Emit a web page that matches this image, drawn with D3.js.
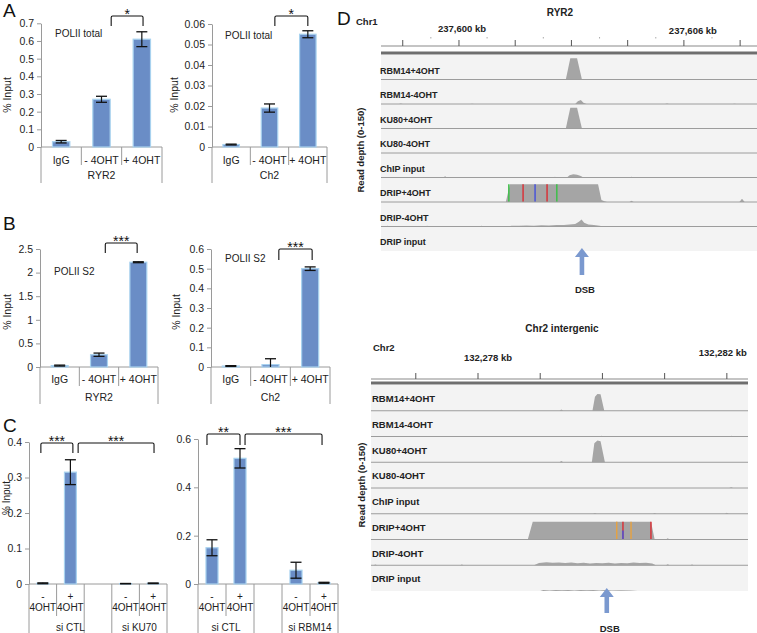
<!DOCTYPE html>
<html><head><meta charset="utf-8">
<script src="https://cdn.jsdelivr.net/npm/d3@7"></script>
<style>body{margin:0;background:#fff;} svg{display:block;}</style>
</head><body><svg id="fig" width="757" height="633"></svg>
<script>
// ---------------- DATA ----------------
const catsAB = ["IgG", "- 4OHT", "+ 4OHT"];
const aRyr2 = [0.03, 0.27, 0.61];
const aRyr2Err = [0.007, 0.017, 0.042];
const aCh2 = [0.0012, 0.019, 0.055];
const aCh2Err = [0.0002, 0.002, 0.0017];
const bRyr2 = [0.03, 0.26, 2.22];
const bRyr2Err = [0.01, 0.035, 0.01];
const bCh2 = [0.005, 0.012, 0.50];
const bCh2Err = [0.002, 0.03, 0.009];

const catsCSign = ["-", "+", "", "-", "+"];
const catsCTreat = ["4OHT", "4OHT", "", "4OHT", "4OHT"];
const cKu70 = [0.002, 0.315, null, 0.001, 0.002];
const cKu70Err = [0.0012, 0.035, null, 0.0005, 0.0008];
const cRbm14 = [0.15, 0.52, null, 0.057, 0.005];
const cRbm14Err = [0.033, 0.04, null, 0.033, 0.002];
const groupsKu70 = [{name: "si CTL", from: 0, to: 2}, {name: "si KU70", from: 3, to: 4}];
const groupsRbm14 = [{name: "si CTL", from: 0, to: 1}, {name: "si RBM14", from: 3, to: 4}];

const ticksA1 = [0, 0.1, 0.2, 0.3, 0.4, 0.5, 0.6, 0.7];
const ticksA2 = [0, 0.01, 0.02, 0.03, 0.04, 0.05, 0.06];
const ticksB1 = [0, 0.5, 1, 1.5, 2, 2.5];
const ticksB2 = [0, 0.1, 0.2, 0.3, 0.4, 0.5, 0.6];
const ticksC1 = [0, 0.1, 0.2, 0.3, 0.4];
const ticksC2 = [0, 0.2, 0.4, 0.6];

// IGV panel data (positions in kb, offsets from base; depth 0-150)
const topBase = 237600;
const topWindow = [-2.08, 7.95];
const topMajorTicks = [-1.5, 0, 1.5, 3, 4.5, 6, 7.5];
const topMinorTicks = [-0.75, 0.75, 2.25, 3.75, 5.25, 6.75];
const topLabelTicks = [0, 6];
const topDsb = 3.28;
const trackNames = ["RBM14+4OHT", "RBM14-4OHT", "KU80+4OHT", "KU80-4OHT", "ChIP input", "DRIP+4OHT", "DRIP-4OHT", "DRIP input"];
const topCov = [
  [[2.85,0],[2.97,135],[3.15,135],[3.28,0]],
  [[-1.6,0],[-1.55,3],[-1.5,0],[0.3,0],[0.35,2],[0.4,0],[3.1,0],[3.17,18],[3.25,26],[3.32,8],[3.4,0],[5.5,0],[5.55,3],[5.6,0],[7.3,0],[7.35,2],[7.4,0]],
  [[2.85,0],[2.97,133],[3.15,133],[3.28,0]],
  [],
  [[-0.42,0],[-0.37,8],[-0.32,0],[2.52,0],[2.56,5],[2.6,0],[2.88,0],[2.95,14],[3.05,20],[3.15,17],[3.25,10],[3.32,0],[4.55,0],[4.6,5],[4.65,0]],
  [[1.25,0],[1.36,113],[3.71,113],[3.8,12],[3.88,4],[3.95,0],[4.55,0],[4.6,8],[4.66,0],[7.48,0],[7.55,20],[7.62,0]],
  [[-1.95,0],[-1.9,4],[-1.85,0],[-0.9,0],[-0.85,4],[-0.8,0],[0.55,0],[0.6,4],[0.65,0],[1.3,0],[1.4,5],[1.6,4],[1.8,7],[2.0,5],[2.2,8],[2.4,6],[2.6,10],[2.8,9],[2.95,13],[3.1,16],[3.2,30],[3.27,45],[3.34,24],[3.45,12],[3.6,9],[3.75,5],[3.85,0],[5.35,0],[5.4,3],[5.45,0]],
  []
];
const topMarks = [[1.33, "#3fbf4a"], [1.71, "#d8343a"], [2.03, "#4a55d8"], [2.35, "#d8343a"], [2.61, "#3fbf4a"]];

const botBase = 132278;
const botWindow = [-1.72, 4.34];
const botMajorTicks = [-1, 0, 1, 2, 3, 4];
const botLabelTicks = [0, 4];
const botDsb = 2.07;
const botCov = [
  [[1.31,0],[1.34,8],[1.37,0],[1.84,0],[1.88,85],[1.92,102],[1.97,100],[2.03,0]],
  [[1.96,0],[1.99,4],[2.02,0],[4.04,0],[4.07,4],[4.1,0]],
  [[1.31,0],[1.34,8],[1.37,0],[1.83,0],[1.87,115],[1.92,132],[1.97,128],[2.04,0]],
  [[4.04,0],[4.07,4],[4.1,0]],
  [[1.85,0],[1.88,4],[1.91,0],[2.81,0],[2.84,4],[2.87,0],[3.97,0],[4.0,6],[4.03,0]],
  [[0.80,0],[0.88,108],[2.78,108],[2.84,0],[3.02,0],[3.05,8],[3.08,0]],
  [[-1.68,0],[-1.65,5],[-1.62,0],[-0.29,0],[-0.26,5],[-0.23,0],[0.9,0],[0.98,14],[1.1,18],[1.2,15],[1.3,17],[1.4,13],[1.5,16],[1.6,12],[1.7,15],[1.8,11],[1.9,14],[2.0,12],[2.1,15],[2.2,11],[2.3,14],[2.4,12],[2.5,16],[2.6,13],[2.7,15],[2.8,10],[2.86,0],[3.02,0],[3.05,6],[3.08,0],[3.41,0],[3.44,5],[3.47,0]],
  [[1.0,0],[1.05,6],[1.15,3],[1.25,6],[1.35,4],[1.45,6],[1.55,3],[1.65,6],[1.75,4],[1.85,6],[1.95,3],[2.05,6],[2.15,3],[2.3,5],[2.45,3],[2.57,0]]
];
const botMarks = [[2.23, "#e3a245"], [2.33, "#d8343a"], [2.33, "#4a55d8", 0.5], [2.46, "#e3a245"], [2.78, "#d8343a"]];

// ---------------- DRAWING ----------------
const FONT = "'Liberation Sans', Arial, Helvetica, sans-serif";
const AX = "#9a9a9a";
const BAR = "#6a8dc6";
const BAR_EDGE = "#a8d2ef";
const svg = d3.select("#fig").attr("font-family", FONT);

function txt(g, t, x, y, opts = {}) {
  const e = g.append("text").attr("x", x).attr("y", y).text(t)
    .attr("font-size", opts.fs || 10.5).attr("fill", opts.fill || "#222")
    .attr("text-anchor", opts.anchor || "start");
  if (opts.bold) e.attr("font-weight", "bold");
  if (opts.rot) e.attr("transform", `rotate(-90,${x},${y})`);
  return e;
}

function barPanel(c) {
  const n = c.vals.length;
  const g = svg.append("g");
  const x = d3.scaleBand().domain(d3.range(n)).range([c.x0, c.x1]);
  const y = d3.scaleLinear().domain([0, c.yMax]).range([c.yBase, c.yTop]);
  const bw = x.bandwidth() * 0.43;

  const ax = g.append("g").attr("transform", `translate(${c.x0},0)`)
    .call(d3.axisLeft(y).tickValues(c.ticks).tickFormat(c.fmt).tickSizeInner(4).tickSizeOuter(0).tickPadding(3));
  ax.attr("font-family", FONT).attr("font-size", c.tickFs || 10.5);
  ax.select(".domain").attr("stroke", AX);
  ax.selectAll(".tick line").attr("stroke", AX);
  ax.selectAll(".tick text").attr("fill", "#222");

  // category axis
  g.append("line").attr("x1", c.x0).attr("x2", c.x1).attr("y1", c.yBase).attr("y2", c.yBase).attr("stroke", AX);
  d3.range(n + 1).forEach(k => {
    const xx = k === n ? c.x1 : x(k);
    const full = c.fullDiv.includes(k);
    g.append("line").attr("x1", xx).attr("x2", xx).attr("y1", c.yBase)
      .attr("y2", c.yBase + (full ? c.outerLen : c.innerLen)).attr("stroke", AX);
  });
  c.catLines.forEach((arr, li) => {
    arr.forEach((t, i) => {
      if (t) txt(g, t, x(i) + x.bandwidth() / 2, c.yBase + c.catDy[li], {anchor: "middle", fs: c.catFs || 10.5});
    });
  });
  c.groups.forEach(gr => {
    const gx = (x(gr.from) + x(gr.to) + x.bandwidth()) / 2;
    txt(g, gr.name, gx, c.yBase + c.groupDy, {anchor: "middle", fs: c.groupFs || 10.5});
  });

  // bars
  const idx = d3.range(n).filter(i => c.vals[i] != null);
  g.selectAll("rect.bar").data(idx).join("rect").attr("class", "bar")
    .attr("x", i => x(i) + (x.bandwidth() - bw) / 2).attr("width", bw)
    .attr("y", i => y(c.vals[i])).attr("height", i => c.yBase - y(c.vals[i]))
    .attr("fill", BAR).attr("stroke", BAR_EDGE).attr("stroke-width", 1.2);

  // error bars
  const cap = 5.5;
  idx.forEach(i => {
    const e = c.errs[i];
    if (e == null) return;
    const cx = x(i) + x.bandwidth() / 2;
    const lo = Math.max(0, c.vals[i] - e), hi = c.vals[i] + e;
    g.append("line").attr("x1", cx).attr("x2", cx).attr("y1", y(lo)).attr("y2", y(hi)).attr("stroke", "#111").attr("stroke-width", 1.2);
    g.append("line").attr("x1", cx - cap).attr("x2", cx + cap).attr("y1", y(hi)).attr("y2", y(hi)).attr("stroke", "#111").attr("stroke-width", 1.3);
    if (c.vals[i] - e >= 0)
      g.append("line").attr("x1", cx - cap).attr("x2", cx + cap).attr("y1", y(lo)).attr("y2", y(lo)).attr("stroke", "#111").attr("stroke-width", 1.3);
  });

  // significance brackets
  c.brackets.forEach(b => {
    const xl = x(b.i) + x.bandwidth() * b.fi, xr = x(b.j) + x.bandwidth() * b.fj;
    g.append("path").attr("d", `M${xl},${b.dropL} V${b.top + 1.5} Q${xl},${b.top} ${xl + 1.5},${b.top} H${xr - 1.5} Q${xr},${b.top} ${xr},${b.top + 1.5} V${b.dropR}`)
      .attr("fill", "none").attr("stroke", "#111").attr("stroke-width", 1.1);
    txt(g, b.label, (xl + xr) / 2, b.top + 2.5, {anchor: "middle", fs: 14, fill: "#111"});
  });

  if (c.ylab) txt(g, "% Input", c.ylab.x, c.ylab.y, {anchor: "middle", rot: true, fs: c.ylab.fs || 10.5});
  if (c.title) txt(g, c.title.t, c.title.x, c.title.y, {fs: c.title.fs || 9.5});
  if (c.letter) txt(g, c.letter.t, c.letter.x, c.letter.y, {fs: 19, fill: "#111"});
}

const fmt = d => d3.format("")(+d.toFixed(3));

barPanel({vals: aRyr2, errs: aRyr2Err, x0: 41, x1: 162, yTop: 23.3, yBase: 147, yMax: 0.7, ticks: ticksA1, fmt,
  fullDiv: [0, 3], innerLen: 18, outerLen: 36, catLines: [catsAB], catDy: [17], groups: [{name: "RYR2", from: 0, to: 2}], groupDy: 32,
  brackets: [{i: 1, fi: 0.74, j: 2, fj: 0.53, label: "*", top: 16, dropL: 26, dropR: 26}],
  ylab: {x: 11, y: 95}, title: {t: "POLII total", x: 55, y: 36.5, fs: 10}, letter: {t: "A", x: 3, y: 17}});

barPanel({vals: aCh2, errs: aCh2Err, x0: 212, x1: 327, yTop: 24, yBase: 147, yMax: 0.06, ticks: ticksA2, fmt,
  fullDiv: [0, 3], innerLen: 18, outerLen: 36, catLines: [catsAB], catDy: [17], groups: [{name: "Ch2", from: 0, to: 2}], groupDy: 32,
  brackets: [{i: 1, fi: 0.64, j: 2, fj: 0.5, label: "*", top: 16, dropL: 26, dropR: 26}],
  ylab: {x: 178, y: 95}, title: {t: "POLII total", x: 225, y: 38.5, fs: 10}, letter: {t: "D", x: 337, y: 25}});

barPanel({vals: bRyr2, errs: bRyr2Err, x0: 40, x1: 158, yTop: 249, yBase: 367, yMax: 2.5, ticks: ticksB1, fmt,
  fullDiv: [0, 3], innerLen: 19, outerLen: 37, catLines: [catsAB], catDy: [16], groups: [{name: "RYR2", from: 0, to: 2}], groupDy: 34,
  brackets: [{i: 1, fi: 0.66, j: 2, fj: 0.47, label: "***", top: 243, dropL: 253, dropR: 253}],
  ylab: {x: 11, y: 312}, title: {t: "POLII S2", x: 54, y: 275, fs: 10}, letter: {t: "B", x: 3, y: 230}});

barPanel({vals: bCh2, errs: bCh2Err, x0: 211, x1: 330, yTop: 249, yBase: 367, yMax: 0.6, ticks: ticksB2, fmt,
  fullDiv: [0, 3], innerLen: 19, outerLen: 37, catLines: [catsAB], catDy: [16], groups: [{name: "Ch2", from: 0, to: 2}], groupDy: 34,
  brackets: [{i: 1, fi: 0.71, j: 2, fj: 0.55, label: "***", top: 249, dropL: 260, dropR: 260}],
  ylab: {x: 180, y: 312}, title: {t: "POLII S2", x: 225, y: 261.5, fs: 10}});

barPanel({vals: cKu70, errs: cKu70Err, x0: 29, x1: 167, yTop: 442, yBase: 584, yMax: 0.4, ticks: ticksC1, fmt,
  fullDiv: [0, 2, 3, 5], innerLen: 32, outerLen: 52, catLines: [catsCSign, catsCTreat], catDy: [16, 27], catFs: 10, groupFs: 10,
  groups: groupsKu70, groupDy: 47,
  brackets: [{i: 0, fi: 0.43, j: 1, fj: 0.59, label: "***", top: 443, dropL: 453, dropR: 453},
             {i: 1, fi: 0.78, j: 4, fj: 0.53, label: "***", top: 443, dropL: 453, dropR: 453}],
  ylab: {x: 10, y: 498, fs: 10}, letter: {t: "C", x: 3, y: 431.5}});

barPanel({vals: cRbm14, errs: cRbm14Err, x0: 198, x1: 338, yTop: 439, yBase: 584, yMax: 0.6, ticks: ticksC2, fmt,
  fullDiv: [0, 2, 3, 5], innerLen: 32, outerLen: 52, catLines: [catsCSign, catsCTreat], catDy: [16, 27], catFs: 10, groupFs: 10,
  groups: groupsRbm14, groupDy: 47,
  brackets: [{i: 0, fi: 0.32, j: 1, fj: 0.5, label: "**", top: 434, dropL: 445, dropR: 445},
             {i: 1, fi: 0.68, j: 4, fj: 0.43, label: "***", top: 434, dropL: 445, dropR: 445}]});

// ---------------- IGV panels ----------------
function igvPanel(c) {
  const g = svg.append("g");
  const x = d3.scaleLinear().domain(c.window.map(d => c.base + d)).range([c.x0, c.x1]);
  const nT = trackNames.length;
  const yEnd = c.trackTop + nT * c.trackH;
  g.append("rect").attr("x", c.x0).attr("y", c.trackTop).attr("width", c.x1 - c.x0).attr("height", yEnd - c.trackTop).attr("fill", "#f3f3f3");

  // ruler
  g.append("line").attr("x1", c.x0).attr("x2", c.x1).attr("y1", c.rulerY).attr("y2", c.rulerY).attr("stroke", "#8a8a8a").attr("stroke-width", 1.2);
  c.major.forEach(t => g.append("line").attr("x1", x(c.base + t)).attr("x2", x(c.base + t))
    .attr("y1", c.rulerY - 6).attr("y2", c.rulerY).attr("stroke", "#555"));
  (c.minor || []).forEach(t => g.append("line").attr("x1", x(c.base + t)).attr("x2", x(c.base + t))
    .attr("y1", c.rulerY - 9).attr("y2", c.rulerY - 7.5).attr("stroke", "#aaa"));
  c.labelTicks.forEach((t, k) => txt(g, d3.format(",")(c.base + t) + " kb", x(c.base + t) + c.labelDx[k], c.labelY[k], {anchor: "middle", bold: true, fs: 9.5}));
  g.append("rect").attr("x", c.x0).attr("y", c.thickY - 1.5).attr("width", c.x1 - c.x0).attr("height", 3).attr("fill", "#6e6e6e");

  txt(g, c.title, c.titleX, c.titleY, {anchor: "middle", bold: true, fs: 10});
  txt(g, c.chrom, c.chromX, c.chromY, {bold: true, fs: 9.5});

  trackNames.forEach((name, k) => {
    const top = c.trackTop + k * c.trackH, bot = top + c.trackH;
    const yy = d3.scaleLinear().domain([0, 150]).range([bot, top + 1]);
    const cov = c.cov[k];
    if (cov.length) {
      g.append("path").datum(cov)
        .attr("d", d3.area().x(d => x(c.base + d[0])).y0(bot).y1(d => yy(d[1])))
        .attr("fill", "#a5a5a5");
    }
    if (name === "DRIP+4OHT") {
      const plateau = d3.max(cov, d => d[1]);
      c.marks.forEach(m => {
        const frac = m[2] || 0;
        const y1 = yy(plateau), y2 = bot;
        g.append("line").attr("x1", x(c.base + m[0])).attr("x2", x(c.base + m[0]))
          .attr("y1", y1 + (y2 - y1) * frac).attr("y2", y2).attr("stroke", m[1]).attr("stroke-width", 1.5);
      });
    }
    if (k < nT - 1) g.append("line").attr("x1", c.x0).attr("x2", c.x1).attr("y1", bot).attr("y2", bot).attr("stroke", "#9c9c9c").attr("stroke-width", 1);
    txt(g, name, c.labelX, top + c.labelDy, {bold: true, fs: c.trackFs});
  });

  // DSB arrow
  const ax0 = x(c.base + c.dsb);
  const tip = c.arrowTip, tail = c.arrowTail;
  g.append("path").attr("d", `M${ax0},${tip} L${ax0 + 7},${tip + 9} L${ax0 + 2.3},${tip + 9} L${ax0 + 2.3},${tail} L${ax0 - 2.3},${tail} L${ax0 - 2.3},${tip + 9} L${ax0 - 7},${tip + 9} Z`)
    .attr("fill", "#7b99cf");
  txt(g, "DSB", ax0 + 3, c.dsbLabelY, {anchor: "middle", bold: true, fs: 9.5});
  txt(g, "Read depth (0-150)", c.depthX, c.depthY, {anchor: "middle", bold: true, rot: true, fs: 9.5});
}

igvPanel({base: topBase, window: topWindow, x0: 381, x1: 757, major: topMajorTicks, minor: topMinorTicks,
  labelTicks: topLabelTicks, labelDx: [3, 9], labelY: [32, 34], rulerY: 46, thickY: 53,
  title: "RYR2", titleX: 560, titleY: 16, chrom: "Chr1", chromX: 356, chromY: 25,
  trackTop: 55, trackH: 24.5, labelDy: 18.5, labelX: 380, trackFs: 9,
  cov: topCov, marks: topMarks, dsb: topDsb, arrowTip: 248, arrowTail: 275, dsbLabelY: 293,
  depthX: 364, depthY: 150});

igvPanel({base: botBase, window: botWindow, x0: 371, x1: 748, major: botMajorTicks,
  labelTicks: botLabelTicks, labelDx: [10, -4], labelY: [361, 356], rulerY: 379, thickY: 383,
  title: "Chr2 intergenic", titleX: 562, titleY: 332, chrom: "Chr2", chromX: 373, chromY: 351,
  trackTop: 385, trackH: 25.75, labelDy: 17, labelX: 372, trackFs: 9.5,
  cov: botCov, marks: botMarks, dsb: botDsb, arrowTip: 588, arrowTail: 613, dsbLabelY: 632,
  depthX: 365, depthY: 485});
</script>
</body></html>
